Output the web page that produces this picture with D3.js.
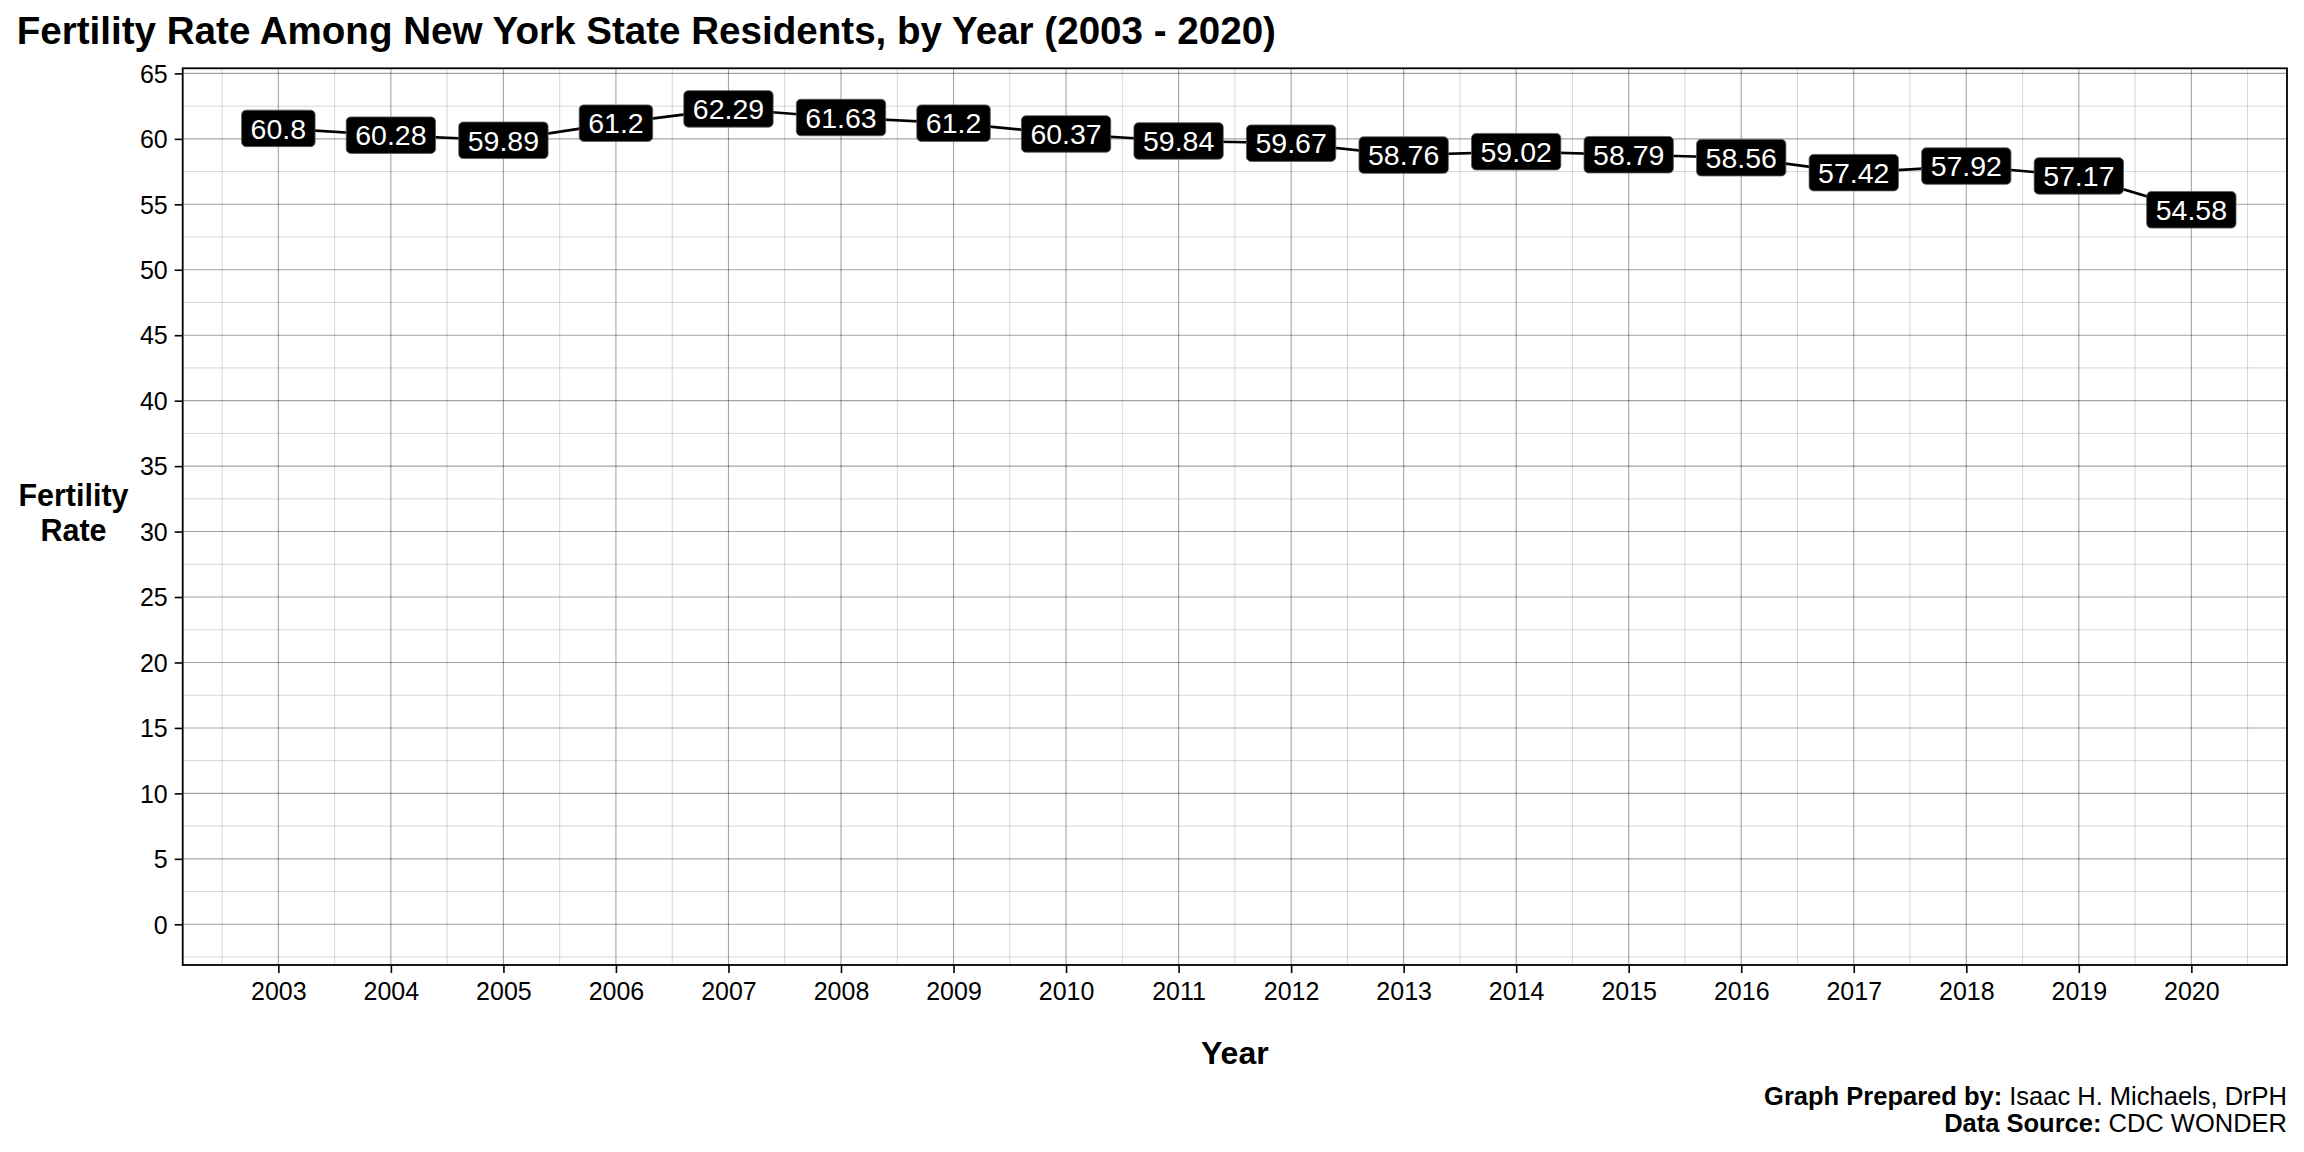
<!DOCTYPE html>
<html>
<head>
<meta charset="utf-8">
<script src="https://cdn.jsdelivr.net/npm/d3@7"></script>
<style>
  html, body { margin: 0; padding: 0; background: #fff; }
  svg { display: block; font-family: "Liberation Sans", Arial, Helvetica, sans-serif; }
</style>
</head>
<body>
<script>
// data
const years = [2003, 2004, 2005, 2006, 2007, 2008, 2009, 2010, 2011, 2012,
               2013, 2014, 2015, 2016, 2017, 2018, 2019, 2020];
const rates = [60.8, 60.28, 59.89, 61.2, 62.29, 61.63, 61.2, 60.37, 59.84, 59.67,
               58.76, 59.02, 58.79, 58.56, 57.42, 57.92, 57.17, 54.58];
const yTicks = d3.range(0, 66, 5);
const yMinor = d3.range(-2.5, 65, 5);
const xMinor = d3.range(2002.5, 2021, 1);

const width = 2304;
const height = 1152;
const panel = { left: 182.7, right: 2287, top: 68.3, bottom: 965 };

const data = years.map((y, i) => ({ year: y, rate: rates[i] }));

const x = d3.scaleLinear()
  .domain([2002.15, 2020.85])
  .range([panel.left, panel.right]);
const y = d3.scaleLinear()
  .domain([-3.11, 65.39])
  .range([panel.bottom, panel.top]);

const svg = d3.select("body").append("svg")
  .attr("width", width)
  .attr("height", height);

// grid
const grid = svg.append("g");
grid.selectAll(".minor-y").data(yMinor).enter().append("line")
  .attr("x1", panel.left).attr("x2", panel.right)
  .attr("y1", d => y(d)).attr("y2", d => y(d))
  .attr("stroke", "#000").attr("stroke-opacity", 0.16).attr("stroke-width", 1);
grid.selectAll(".minor-x").data(xMinor).enter().append("line")
  .attr("y1", panel.top).attr("y2", panel.bottom)
  .attr("x1", d => x(d)).attr("x2", d => x(d))
  .attr("stroke", "#000").attr("stroke-opacity", 0.16).attr("stroke-width", 1);
grid.selectAll(".major-y").data(yTicks).enter().append("line")
  .attr("x1", panel.left).attr("x2", panel.right)
  .attr("y1", d => y(d)).attr("y2", d => y(d))
  .attr("stroke", "#000").attr("stroke-opacity", 0.36).attr("stroke-width", 1.1);
grid.selectAll(".major-x").data(years).enter().append("line")
  .attr("y1", panel.top).attr("y2", panel.bottom)
  .attr("x1", d => x(d)).attr("x2", d => x(d))
  .attr("stroke", "#000").attr("stroke-opacity", 0.36).attr("stroke-width", 1.1);

// axes
const xAxis = svg.append("g")
  .attr("transform", `translate(0,${panel.bottom})`)
  .call(d3.axisBottom(x).tickValues(years).tickFormat(d3.format("d"))
    .tickSize(8).tickPadding(9).tickSizeOuter(0));
const yAxis = svg.append("g")
  .attr("transform", `translate(${panel.left},0)`)
  .call(d3.axisLeft(y).tickValues(yTicks).tickSize(8).tickPadding(7).tickSizeOuter(0));

[xAxis, yAxis].forEach(a => {
  a.select(".domain").remove();
  a.selectAll(".tick line").attr("stroke", "#000").attr("stroke-width", 1.6);
  a.selectAll(".tick text")
    .attr("fill", "#000")
    .attr("font-size", 25)
    .attr("font-family", "'Liberation Sans', Arial, sans-serif");
});
yAxis.selectAll(".tick text").attr("dy", "0.35em");

// panel border
svg.append("rect")
  .attr("x", panel.left).attr("y", panel.top)
  .attr("width", panel.right - panel.left)
  .attr("height", panel.bottom - panel.top)
  .attr("fill", "none")
  .attr("stroke", "#000")
  .attr("stroke-width", 1.8);

// line
const line = d3.line()
  .x(d => x(d.year))
  .y(d => y(d.rate));

svg.append("path")
  .datum(data)
  .attr("d", line)
  .attr("fill", "none")
  .attr("stroke", "#000")
  .attr("stroke-width", 2.6);

// labels
const labelFont = 28.5;
const padX = 9;
const boxH = 36.5;
const labels = svg.append("g")
  .selectAll("g")
  .data(data)
  .enter()
  .append("g")
  .attr("transform", d => `translate(${x(d.year)},${y(d.rate)})`);

const rects = labels.append("rect")
  .attr("fill", "#000")
  .attr("stroke", "#5a5a5a")
  .attr("stroke-width", 0.8)
  .attr("rx", 4.5).attr("ry", 4.5);

const texts = labels.append("text")
  .text(d => String(d.rate))
  .attr("text-anchor", "middle")
  .attr("y", labelFont * 0.36)
  .attr("font-size", labelFont)
  .attr("fill", "#fff");

texts.each(function(d) {
  d.tw = this.getComputedTextLength();
});
rects
  .attr("x", d => -d.tw / 2 - padX)
  .attr("y", -boxH / 2)
  .attr("width", d => d.tw + 2 * padX)
  .attr("height", boxH);

// title
svg.append("text")
  .attr("x", 16.7)
  .attr("y", 43.5)
  .attr("font-size", 38.6)
  .attr("font-weight", "bold")
  .attr("fill", "#000")
  .text("Fertility Rate Among New York State Residents, by Year (2003 - 2020)");

// axis titles (two lines, kept as separate texts)
[["Fertility", 506], ["Rate", 541]].forEach(([s, yy]) => {
  svg.append("text")
    .attr("x", 73.5)
    .attr("y", yy)
    .attr("text-anchor", "middle")
    .attr("font-size", 30.5)
    .attr("font-weight", "bold")
    .attr("fill", "#000")
    .text(s);
});

svg.append("text")
  .attr("x", (panel.left + panel.right) / 2)
  .attr("y", 1064)
  .attr("text-anchor", "middle")
  .attr("font-size", 32)
  .attr("font-weight", "bold")
  .attr("fill", "#000")
  .text("Year");

// caption
const caption = [
  ["Graph Prepared by:", " Isaac H. Michaels, DrPH"],
  ["Data Source:", " CDC WONDER"]
];
caption.forEach((c, i) => {
  const t = svg.append("text")
    .attr("x", panel.right)
    .attr("y", 1105 + i * 27)
    .attr("text-anchor", "end")
    .attr("font-size", 25.5)
    .attr("fill", "#000");
  t.append("tspan").attr("font-weight", "bold").text(c[0]);
  t.append("tspan").text(c[1]);
});
</script>
</body>
</html>
